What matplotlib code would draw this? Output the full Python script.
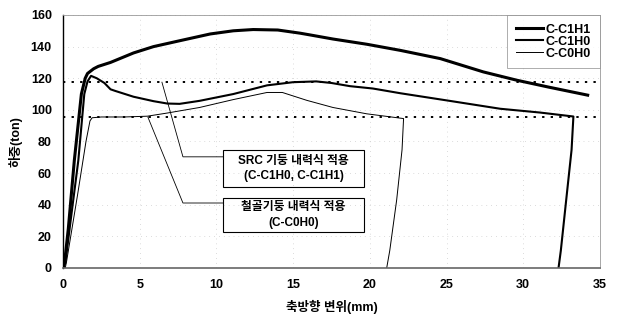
import matplotlib
matplotlib.use('Agg')
import matplotlib.pyplot as plt
from matplotlib.patches import Rectangle

plt.rcParams['font.family'] = ['Liberation Sans', 'Noto Sans CJK KR']
plt.rcParams['font.weight'] = 'bold'

# C-C1H1 (thick)
c1h1_x = [0, 0.1, 0.35, 0.74, 1.2, 1.45, 1.6, 2.0, 2.3, 3.1, 4.6, 5.9, 7.6, 9.6, 11.1,
          12.4, 14.0, 15.45, 16.1, 17.6, 19.8, 22.0, 24.6, 27.4, 29.6, 31.7, 34.2]
c1h1_y = [0, 3, 25, 68, 110, 120, 123, 126, 127.5, 130, 136, 140, 143.7, 148, 150,
          150.8, 150.5, 148.5, 147.4, 144.8, 141.5, 137.6, 132.4, 124, 118.7, 114.3, 109.3]

# C-C1H0 (medium)
c1h0_x = [0, 0.15, 0.5, 1.0, 1.39, 1.6, 1.83, 2.2, 2.7, 3.1, 3.4, 4.6, 5.9, 6.8, 7.6,
          8.9, 11.1, 13.3, 15.0, 16.5, 17.5, 18.7, 20.2, 22.0, 25.2, 28.5, 31.1, 33.27,
          33.15, 32.8, 32.45, 32.3]
c1h0_y = [0, 3, 30, 68, 110, 118, 121.5, 120, 117, 113, 112, 108.3, 105.5, 104, 103.8,
          105.7, 110, 115.5, 117.5, 118, 117, 115, 113.5, 110.5, 105.7, 100.7, 98.3, 95.8,
          74.7, 43, 11, 0]

# C-C0H0 (thin)
c0h0_x = [0, 0.15, 0.24, 0.96, 1.5, 1.76, 1.9, 2.5, 4.0, 5.5, 6.8, 8.9, 11.1, 13.3,
          14.3, 15.9, 17.6, 19.8, 22.2, 22.1, 21.75, 21.3, 21.1]
c0h0_y = [0, 0, 4.4, 46.8, 80, 93, 95, 95.5, 95.5, 96, 98, 101.5, 106.5, 111,
          111, 106, 101.5, 97.5, 94.5, 74.7, 43, 11, 0]

src_level = 117.5
steel_level = 95.3

fig = plt.figure(figsize=(6.21, 3.23), dpi=100)
ax = fig.add_axes([0.1014, 0.1703, 0.8647, 0.7833])

ax.plot(c1h1_x, c1h1_y, color='black', lw=2.2, label='C-C1H1')
ax.plot(c1h0_x, c1h0_y, color='black', lw=1.5, label='C-C1H0')
ax.plot(c0h0_x, c0h0_y, color='black', lw=0.7, label='C-C0H0')

ax.axhline(src_level, color='black', lw=1.4, ls=(0, (1.2, 3.2)))
ax.axhline(steel_level, color='black', lw=1.4, ls=(0, (1.2, 3.2)))

# leader lines and boxes for the two design-strength notes
ax.plot([6.45, 7.82, 10.43], [src_level, 70.3, 70.3], color='black', lw=0.6)
ax.plot([5.54, 7.82, 10.43], [steel_level, 41.1, 41.1], color='black', lw=0.6)

ax.add_patch(Rectangle((10.43, 51.3), 9.2, 23.4, fill=False, ec='black', lw=0.8))
ax.add_patch(Rectangle((10.43, 22.8), 9.2, 21.5, fill=False, ec='black', lw=0.8))
ax.text(15.03, 63, 'SRC 기둥 내력식 적용\n(C-C1H0, C-C1H1)', ha='center', va='center',
        fontsize=8.5, fontweight='bold', linespacing=1.4)
ax.text(15.03, 33.5, '철골기둥 내력식 적용\n(C-C0H0)', ha='center', va='center',
        fontsize=8.5, fontweight='bold', linespacing=1.4)

ax.set_xlim(0, 35)
ax.set_ylim(0, 160)
ax.set_xticks(range(0, 36, 5))
ax.set_yticks(range(0, 161, 20))
ax.tick_params(length=0, labelsize=9, pad=8)
for lab in ax.get_xticklabels() + ax.get_yticklabels():
    lab.set_fontweight('bold')

ax.grid(True, color='#bbbbbb', lw=0.5, ls=(0, (1, 6)))
for side in ['top', 'right']:
    ax.spines[side].set_color('#999999')
    ax.spines[side].set_linewidth(0.6)
ax.spines['left'].set_linewidth(1.0)
ax.spines['bottom'].set_color('#666666')
ax.spines['bottom'].set_linewidth(1.2)

ax.set_xlabel('축방향 변위(mm)', fontsize=9, fontweight='bold', labelpad=6)
ax.set_ylabel('하중(ton)', fontsize=9, fontweight='bold', labelpad=6)

leg = ax.legend(loc='upper right', fontsize=9, frameon=True, fancybox=False,
                borderaxespad=0, handlelength=2.2, handletextpad=0.2,
                labelspacing=0.0, borderpad=0.7)
leg.get_frame().set_edgecolor('#888888')
leg.get_frame().set_linewidth(0.6)
for t in leg.get_texts():
    t.set_fontweight('bold')

fig.savefig('out.png', dpi=100)
